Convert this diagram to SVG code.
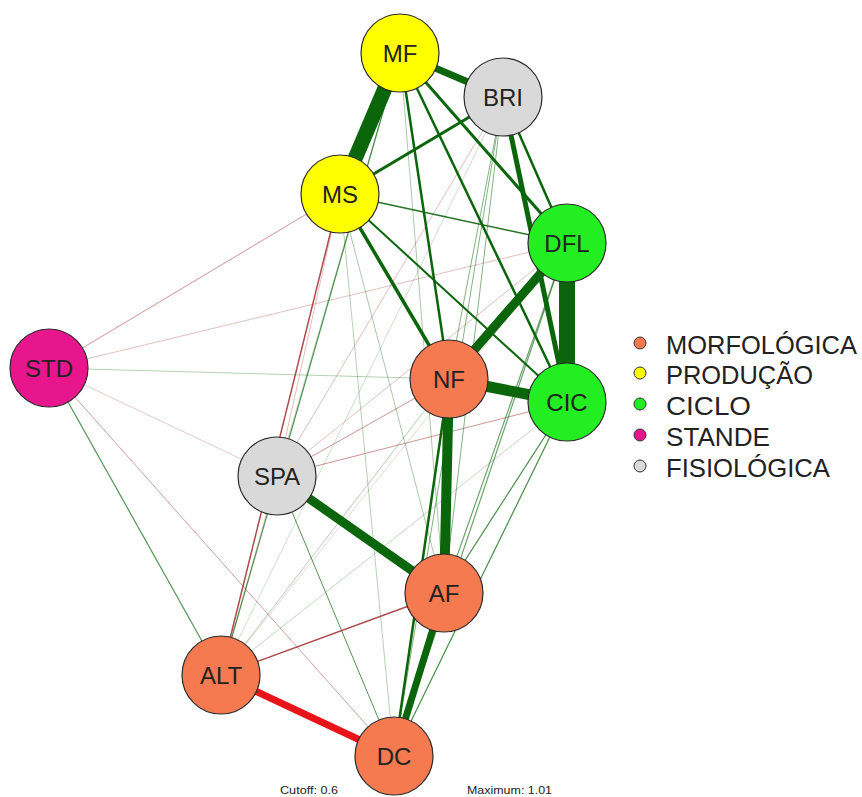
<svg xmlns="http://www.w3.org/2000/svg" width="862" height="797" viewBox="0 0 862 797">
<style>
.bg{fill:#fff}
.g{stroke:#0b650b;fill:none}
.r{stroke:#9e2b2b;fill:none}
.rr{stroke:#e8141a;fill:none}
.node circle{stroke:#2a2a2a;stroke-width:1.2}
.lbl{font-family:"Liberation Sans",Arial,sans-serif;font-size:24px;fill:#222;text-anchor:middle}
.mor{fill:#f57a4f}.pro{fill:#ffff00}.cic{fill:#22ee22}.std{fill:#e8168c}.fis{fill:#d9d9d9}
.leg{font-family:"Liberation Sans",Arial,sans-serif;font-size:26px;fill:#222}
.sm{font-family:"Liberation Sans",Arial,sans-serif;font-size:10px;fill:#222}
.legc{stroke:#333;stroke-width:1}
</style>
<rect class="bg" x="0" y="0" width="862" height="797"/>
<g id="connectors">
<line class="r" x1="49" y1="368" x2="567" y2="243" stroke-width="1" opacity="0.3"/>
<line class="r" x1="49" y1="368" x2="340" y2="194" stroke-width="1" opacity="0.5"/>
<line class="g" x1="49" y1="368" x2="449" y2="379" stroke-width="1" opacity="0.3"/>
<line class="r" x1="49" y1="368" x2="277" y2="476" stroke-width="1" opacity="0.25"/>
<line class="r" x1="49" y1="368" x2="394" y2="756" stroke-width="1" opacity="0.45"/>
<line class="g" x1="49" y1="368" x2="221" y2="675" stroke-width="1.2" opacity="0.7"/>
<line class="r" x1="277" y1="476" x2="340" y2="194" stroke-width="1" opacity="0.3"/>
<line class="r" x1="277" y1="476" x2="567" y2="243" stroke-width="1" opacity="0.3"/>
<line class="r" x1="277" y1="476" x2="449" y2="379" stroke-width="1" opacity="0.5"/>
<line class="r" x1="277" y1="476" x2="567" y2="402" stroke-width="1" opacity="0.5"/>
<line class="r" x1="277" y1="476" x2="503" y2="97" stroke-width="1" opacity="0.3"/>
<line class="g" x1="277" y1="476" x2="400" y2="53" stroke-width="0.8" opacity="0.3"/>
<line class="g" x1="277" y1="476" x2="394" y2="756" stroke-width="1" opacity="0.7"/>
<line class="g" x1="221" y1="675" x2="449" y2="379" stroke-width="1" opacity="0.3"/>
<line class="g" x1="221" y1="675" x2="567" y2="402" stroke-width="1" opacity="0.25"/>
<line class="r" x1="221" y1="675" x2="567" y2="243" stroke-width="0.8" opacity="0.25"/>
<line class="g" x1="221" y1="675" x2="503" y2="97" stroke-width="0.8" opacity="0.25"/>
<line class="r" x1="221" y1="675" x2="277" y2="476" stroke-width="0.8" opacity="0.3"/>
<line class="g" x1="340" y1="194" x2="444" y2="593" stroke-width="1" opacity="0.35"/>
<line class="g" x1="340" y1="194" x2="394" y2="756" stroke-width="1" opacity="0.3"/>
<line class="g" x1="400" y1="53" x2="444" y2="593" stroke-width="1" opacity="0.35"/>
<line class="g" x1="503" y1="97" x2="449" y2="379" stroke-width="1" opacity="0.5"/>
<line class="g" x1="503" y1="97" x2="444" y2="593" stroke-width="1" opacity="0.5"/>
<line class="g" x1="503" y1="97" x2="394" y2="756" stroke-width="1" opacity="0.5"/>
<line class="g" x1="567" y1="243" x2="444" y2="593" stroke-width="1.2" opacity="0.6"/>
<line class="g" x1="567" y1="243" x2="394" y2="756" stroke-width="1.2" opacity="0.6"/>
<line class="g" x1="567" y1="402" x2="444" y2="593" stroke-width="1.2" opacity="0.75"/>
<line class="g" x1="567" y1="402" x2="394" y2="756" stroke-width="1.2" opacity="0.75"/>
<line class="g" x1="221" y1="675" x2="400" y2="53" stroke-width="1.2" opacity="0.7"/>
<line class="r" x1="221" y1="675" x2="340" y2="194" stroke-width="1.5" opacity="0.85"/>
<line class="r" x1="221" y1="675" x2="444" y2="593" stroke-width="1.4" opacity="0.85"/>
<line class="g" x1="340" y1="194" x2="567" y2="243" stroke-width="1.4" opacity="0.9"/>
<line class="g" x1="340" y1="194" x2="567" y2="402" stroke-width="2"/>
<line class="g" x1="340" y1="194" x2="449" y2="379" stroke-width="3.5"/>
<line class="g" x1="503" y1="97" x2="340" y2="194" stroke-width="3"/>
<line class="g" x1="400" y1="53" x2="449" y2="379" stroke-width="2.5"/>
<line class="g" x1="400" y1="53" x2="567" y2="402" stroke-width="2.5"/>
<line class="g" x1="400" y1="53" x2="567" y2="243" stroke-width="3"/>
<line class="g" x1="503" y1="97" x2="567" y2="243" stroke-width="2.5"/>
<line class="g" x1="503" y1="97" x2="567" y2="402" stroke-width="5"/>
<line class="g" x1="449" y1="379" x2="394" y2="756" stroke-width="2.5"/>
<line class="rr" x1="221" y1="675" x2="394" y2="756" stroke-width="7"/>
<line class="g" x1="444" y1="593" x2="394" y2="756" stroke-width="7"/>
<line class="g" x1="400" y1="53" x2="503" y2="97" stroke-width="7"/>
<line class="g" x1="277" y1="476" x2="444" y2="593" stroke-width="9"/>
<line class="g" x1="449" y1="379" x2="567" y2="402" stroke-width="11"/>
<line class="g" x1="449" y1="379" x2="567" y2="243" stroke-width="9"/>
<line class="g" x1="449" y1="379" x2="444" y2="593" stroke-width="10"/>
<line class="g" x1="400" y1="53" x2="340" y2="194" stroke-width="15"/>
<line class="g" x1="567" y1="243" x2="567" y2="402" stroke-width="16"/>
</g>
<g id="node-MF" class="node"><circle class="pro" cx="400" cy="53" r="39"/><text class="lbl" x="400" y="62">MF</text></g>
<g id="node-BRI" class="node"><circle class="fis" cx="503" cy="97" r="39"/><text class="lbl" x="503" y="106">BRI</text></g>
<g id="node-MS" class="node"><circle class="pro" cx="340" cy="194" r="39"/><text class="lbl" x="340" y="203">MS</text></g>
<g id="node-DFL" class="node"><circle class="cic" cx="567" cy="243" r="39"/><text class="lbl" x="567" y="252">DFL</text></g>
<g id="node-STD" class="node"><circle class="std" cx="49" cy="368" r="39"/><text class="lbl" x="49" y="377">STD</text></g>
<g id="node-NF" class="node"><circle class="mor" cx="449" cy="379" r="39"/><text class="lbl" x="449" y="388">NF</text></g>
<g id="node-CIC" class="node"><circle class="cic" cx="567" cy="402" r="39"/><text class="lbl" x="567" y="411">CIC</text></g>
<g id="node-SPA" class="node"><circle class="fis" cx="277" cy="476" r="39"/><text class="lbl" x="277" y="485">SPA</text></g>
<g id="node-AF" class="node"><circle class="mor" cx="444" cy="593" r="39"/><text class="lbl" x="444" y="602">AF</text></g>
<g id="node-ALT" class="node"><circle class="mor" cx="221" cy="675" r="39"/><text class="lbl" x="221" y="684">ALT</text></g>
<g id="node-DC" class="node"><circle class="mor" cx="394" cy="756" r="39"/><text class="lbl" x="394" y="765">DC</text></g>
<g id="legend">
<circle class="legc mor" cx="640" cy="343" r="6"/><text class="leg" x="666" y="354" textLength="191" lengthAdjust="spacingAndGlyphs">MORFOLÓGICA</text>
<circle class="legc pro" cx="640" cy="373" r="6"/><text class="leg" x="666" y="384" textLength="147" lengthAdjust="spacingAndGlyphs">PRODUÇÃO</text>
<circle class="legc cic" cx="640" cy="404" r="6"/><text class="leg" x="666" y="415" textLength="85" lengthAdjust="spacingAndGlyphs">CICLO</text>
<circle class="legc std" cx="640" cy="435" r="6"/><text class="leg" x="666" y="446" textLength="104" lengthAdjust="spacingAndGlyphs">STANDE</text>
<circle class="legc fis" cx="640" cy="466" r="6"/><text class="leg" x="666" y="477" textLength="164" lengthAdjust="spacingAndGlyphs">FISIOLÓGICA</text>
</g>
<text class="sm" x="280" y="794" textLength="58" lengthAdjust="spacingAndGlyphs">Cutoff: 0.6</text>
<text class="sm" x="467" y="794" textLength="85" lengthAdjust="spacingAndGlyphs">Maximum: 1.01</text>
</svg>
